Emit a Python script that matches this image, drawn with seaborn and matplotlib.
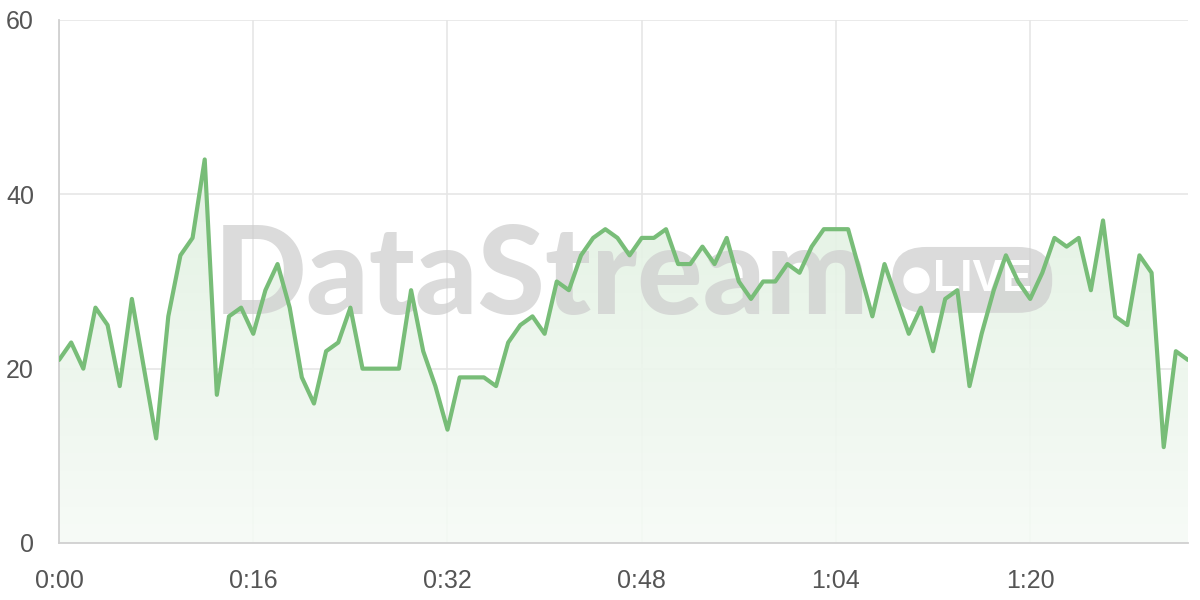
import matplotlib
matplotlib.use("Agg")
import matplotlib.pyplot as plt
from matplotlib.patches import FancyBboxPatch
import seaborn as sns
import numpy as np
import pandas as pd

sns.set_theme(style="white")
plt.rcParams['font.family'] = ['Liberation Sans', 'DejaVu Sans']

# one value per minute, 0:00 .. 1:33
minutes = list(range(94))
values = [21, 23, 20, 27, 25, 18, 28, 20, 12, 26,
          33, 35, 44, 17, 26, 27, 24, 29, 32, 27,
          19, 16, 22, 23, 27, 20, 20, 20, 20, 29,
          22, 18, 13, 19, 19, 19, 18, 23, 25, 26,
          24, 30, 29, 33, 35, 36, 35, 33, 35, 35,
          36, 32, 32, 34, 32, 35, 30, 28, 30, 30,
          32, 31, 34, 36, 36, 36, 31, 26, 32, 28,
          24, 27, 22, 28, 29, 18, 24, 29, 33, 30,
          28, 31, 35, 34, 35, 29, 37, 26, 25, 33,
          31, 11, 22, 21]
x_ticks = [0, 16, 32, 48, 64, 80]
x_labels = ["0:00", "0:16", "0:32", "0:48", "1:04", "1:20"]
y_ticks = [0, 20, 40, 60]

df = pd.DataFrame({"minute": minutes, "value": values})

line_color = "#78bd78"
grid_color = "#e6e6e6"
text_color = "#555555"
mark_color = "#cfcfcf"

fig = plt.figure(figsize=(12, 6), dpi=100)
ax = fig.add_axes([0.0492, 0.095, 0.9408, 0.8717])

# gradient fill under the line
fill = ax.fill_between(df["minute"], df["value"], 0, color="none", zorder=1)
grad = np.linspace(0, 1, 256).reshape(-1, 1)
cmap = matplotlib.colors.LinearSegmentedColormap.from_list(
    "g", ["#f6fbf6", "#e0f0e0"])
img = ax.imshow(grad, cmap=cmap, aspect="auto", origin="lower",
                extent=[0, 93, 0, 45], zorder=1, alpha=0.9)
img.set_clip_path(fill.get_paths()[0], transform=ax.transData)

# watermark
ax.text(0.137, 0.505, "DataStream", transform=ax.transAxes, fontsize=88,
        fontweight="black", family="Lato", color=mark_color, alpha=0.75,
        ha="left", va="center", zorder=2)
badge = FancyBboxPatch((0.738, 0.44), 0.1417, 0.126, transform=ax.transAxes,
                       boxstyle="round,pad=0,rounding_size=0.03", mutation_aspect=2.0,
                       fc=mark_color, ec="none", alpha=0.75, zorder=2)
ax.add_patch(badge)
ax.plot([0.759], [0.503], marker="o", markersize=18, color="white",
        transform=ax.transAxes, zorder=2.1)
ax.text(0.7745, 0.503, "LIVE", transform=ax.transAxes, fontsize=32,
        fontweight="bold", family="Liberation Sans", color="white",
        ha="left", va="center", zorder=2.1)

sns.lineplot(data=df, x="minute", y="value", ax=ax, color=line_color,
             linewidth=3, zorder=3)

ax.set_xlim(0, 93)
ax.set_ylim(0, 60)
ax.set_xticks(x_ticks)
ax.set_xticklabels(x_labels)
ax.set_yticks(y_ticks)
ax.set_xlabel("")
ax.set_ylabel("")
ax.grid(True, color=grid_color, linewidth=1.2)
ax.set_axisbelow(True)
for s in ["top", "right"]:
    ax.spines[s].set_visible(False)
ax.spines["left"].set_color("#d0d0d0")
ax.spines["bottom"].set_color("#d0d0d0")
ax.spines["left"].set_linewidth(1.3)
ax.spines["bottom"].set_linewidth(1.3)
ax.tick_params(axis="both", colors=grid_color, labelcolor=text_color,
               labelsize=18, length=12, width=1.2)
ax.tick_params(axis="x", pad=7)
ax.tick_params(axis="y", pad=6)

fig.savefig("out.png", dpi=100)
